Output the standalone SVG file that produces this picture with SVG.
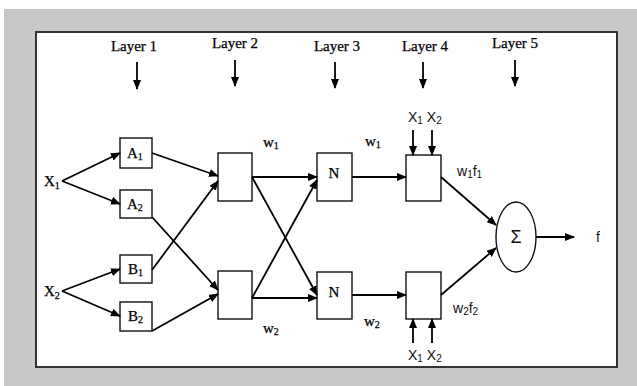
<svg xmlns="http://www.w3.org/2000/svg" width="637" height="386" viewBox="0 0 637 386">
<defs>
<marker id="ah" markerWidth="10" markerHeight="8" refX="9" refY="4" orient="auto" markerUnits="userSpaceOnUse">
<path d="M0,0 L10,4 L0,8 Z" fill="#000"/>
</marker>
<style>
.t{font-family:"Liberation Serif",serif;font-size:15px;fill:#000;stroke:#000;stroke-width:0.25;}
.ss{font-family:"Liberation Sans",Arial,sans-serif;font-size:14px;fill:#111;}
.sig{font-size:18px;}
.s{font-size:10px;}
.box{fill:#fff;stroke:#111;stroke-width:1.4;}
.ln{stroke:#000;stroke-width:1.8;fill:none;marker-end:url(#ah);}
</style>
</defs>
<rect x="0" y="0" width="637" height="386" fill="#fff"/>
<rect x="4" y="9" width="633" height="377" fill="#c8c8c8"/>
<rect x="36" y="32" width="581" height="335" fill="#fff" stroke="#333" stroke-width="2"/>

<g id="layer-labels">
<text class="t" x="134" y="51" text-anchor="middle">Layer 1</text>
<text class="t" x="235" y="48" text-anchor="middle">Layer 2</text>
<text class="t" x="337" y="51" text-anchor="middle">Layer 3</text>
<text class="t" x="425" y="51" text-anchor="middle">Layer 4</text>
<text class="t" x="515" y="48" text-anchor="middle">Layer 5</text>
</g>

<g id="x1"><text class="t" x="44" y="186">X<tspan class="s" dy="3">1</tspan></text></g>
<g id="x2"><text class="t" x="44" y="296">X<tspan class="s" dy="3">2</tspan></text></g>

<g id="A1"><rect class="box" x="120" y="138" width="32" height="30"/><text class="t" x="127" y="158">A<tspan class="s" dy="2">1</tspan></text></g>
<g id="A2"><rect class="box" x="120" y="190" width="32" height="28"/><text class="t" x="127" y="209">A<tspan class="s" dy="2">2</tspan></text></g>
<g id="B1"><rect class="box" x="120" y="255" width="32" height="28"/><text class="t" x="128" y="274">B<tspan class="s" dy="2">1</tspan></text></g>
<g id="B2"><rect class="box" x="120" y="302" width="32" height="29"/><text class="t" x="128" y="321">B<tspan class="s" dy="2">2</tspan></text></g>

<g id="L2a"><rect class="box" x="218" y="153" width="34" height="48"/></g>
<g id="L2b"><rect class="box" x="218" y="271" width="34" height="48"/></g>

<g id="N1"><rect class="box" x="317" y="153" width="35" height="48"/><text class="t" x="334" y="178" text-anchor="middle">N</text></g>
<g id="N2"><rect class="box" x="317" y="272" width="35" height="47"/><text class="t" x="334" y="297" text-anchor="middle">N</text></g>

<g id="L4a"><rect class="box" x="406" y="155" width="35" height="46"/></g>
<g id="L4b"><rect class="box" x="406" y="272" width="35" height="47"/></g>

<g id="sum"><ellipse cx="516" cy="237" rx="20" ry="35" fill="#fff" stroke="#111" stroke-width="1.4"/><text class="ss sig" x="516" y="243" text-anchor="middle">Σ</text></g>

<g id="labels">
<text class="t" x="263" y="147">w<tspan class="s" dy="2">1</tspan></text>
<text class="t" x="365" y="146">w<tspan class="s" dy="2">1</tspan></text>
<text class="t" x="263" y="333">w<tspan class="s" dy="2">2</tspan></text>
<text class="t" x="364" y="326">w<tspan class="s" dy="2">2</tspan></text>
<text class="ss" x="457" y="176">w<tspan class="s" dy="2">1</tspan><tspan dy="-2">f</tspan><tspan class="s" dy="2">1</tspan></text>
<text class="ss" x="453" y="313">w<tspan class="s" dy="2">2</tspan><tspan dy="-2">f</tspan><tspan class="s" dy="2">2</tspan></text>
<text class="ss" x="408" y="122">X<tspan class="s" dy="2">1</tspan><tspan dy="-2"> X</tspan><tspan class="s" dy="2">2</tspan></text>
<text class="ss" x="408" y="360">X<tspan class="s" dy="2">1</tspan><tspan dy="-2"> X</tspan><tspan class="s" dy="2">2</tspan></text>
<text class="ss" x="596" y="242">f</text>
</g>

<g id="connectors">
<line class="ln" x1="137" y1="62" x2="137" y2="89"/>
<line class="ln" x1="235" y1="60" x2="235" y2="86"/>
<line class="ln" x1="335" y1="62" x2="335" y2="88"/>
<line class="ln" x1="423" y1="62" x2="423" y2="88"/>
<line class="ln" x1="515" y1="60" x2="515" y2="86"/>

<line class="ln" x1="62" y1="181" x2="120" y2="153"/>
<line class="ln" x1="62" y1="181" x2="120" y2="204"/>
<line class="ln" x1="62" y1="291" x2="120" y2="269"/>
<line class="ln" x1="62" y1="291" x2="120" y2="316"/>

<line class="ln" x1="152" y1="153" x2="218" y2="176"/>
<line class="ln" x1="152" y1="217" x2="218" y2="290"/>
<line class="ln" x1="152" y1="270" x2="218" y2="181"/>
<line class="ln" x1="152" y1="331" x2="218" y2="294"/>

<line class="ln" x1="252" y1="177" x2="317" y2="177"/>
<line class="ln" x1="252" y1="177" x2="317" y2="295"/>
<line class="ln" x1="252" y1="298" x2="317" y2="180"/>
<line class="ln" x1="252" y1="298" x2="317" y2="298"/>

<line class="ln" x1="352" y1="177" x2="406" y2="177"/>
<line class="ln" x1="352" y1="295" x2="406" y2="295"/>

<line class="ln" x1="413" y1="130" x2="413" y2="155"/>
<line class="ln" x1="432" y1="130" x2="432" y2="155"/>
<line class="ln" x1="413" y1="343" x2="413" y2="319"/>
<line class="ln" x1="432" y1="343" x2="432" y2="319"/>

<line class="ln" x1="441" y1="177" x2="496" y2="225"/>
<line class="ln" x1="441" y1="295" x2="496" y2="248"/>
<line class="ln" x1="536" y1="237" x2="574" y2="237"/>
</g>
</svg>
